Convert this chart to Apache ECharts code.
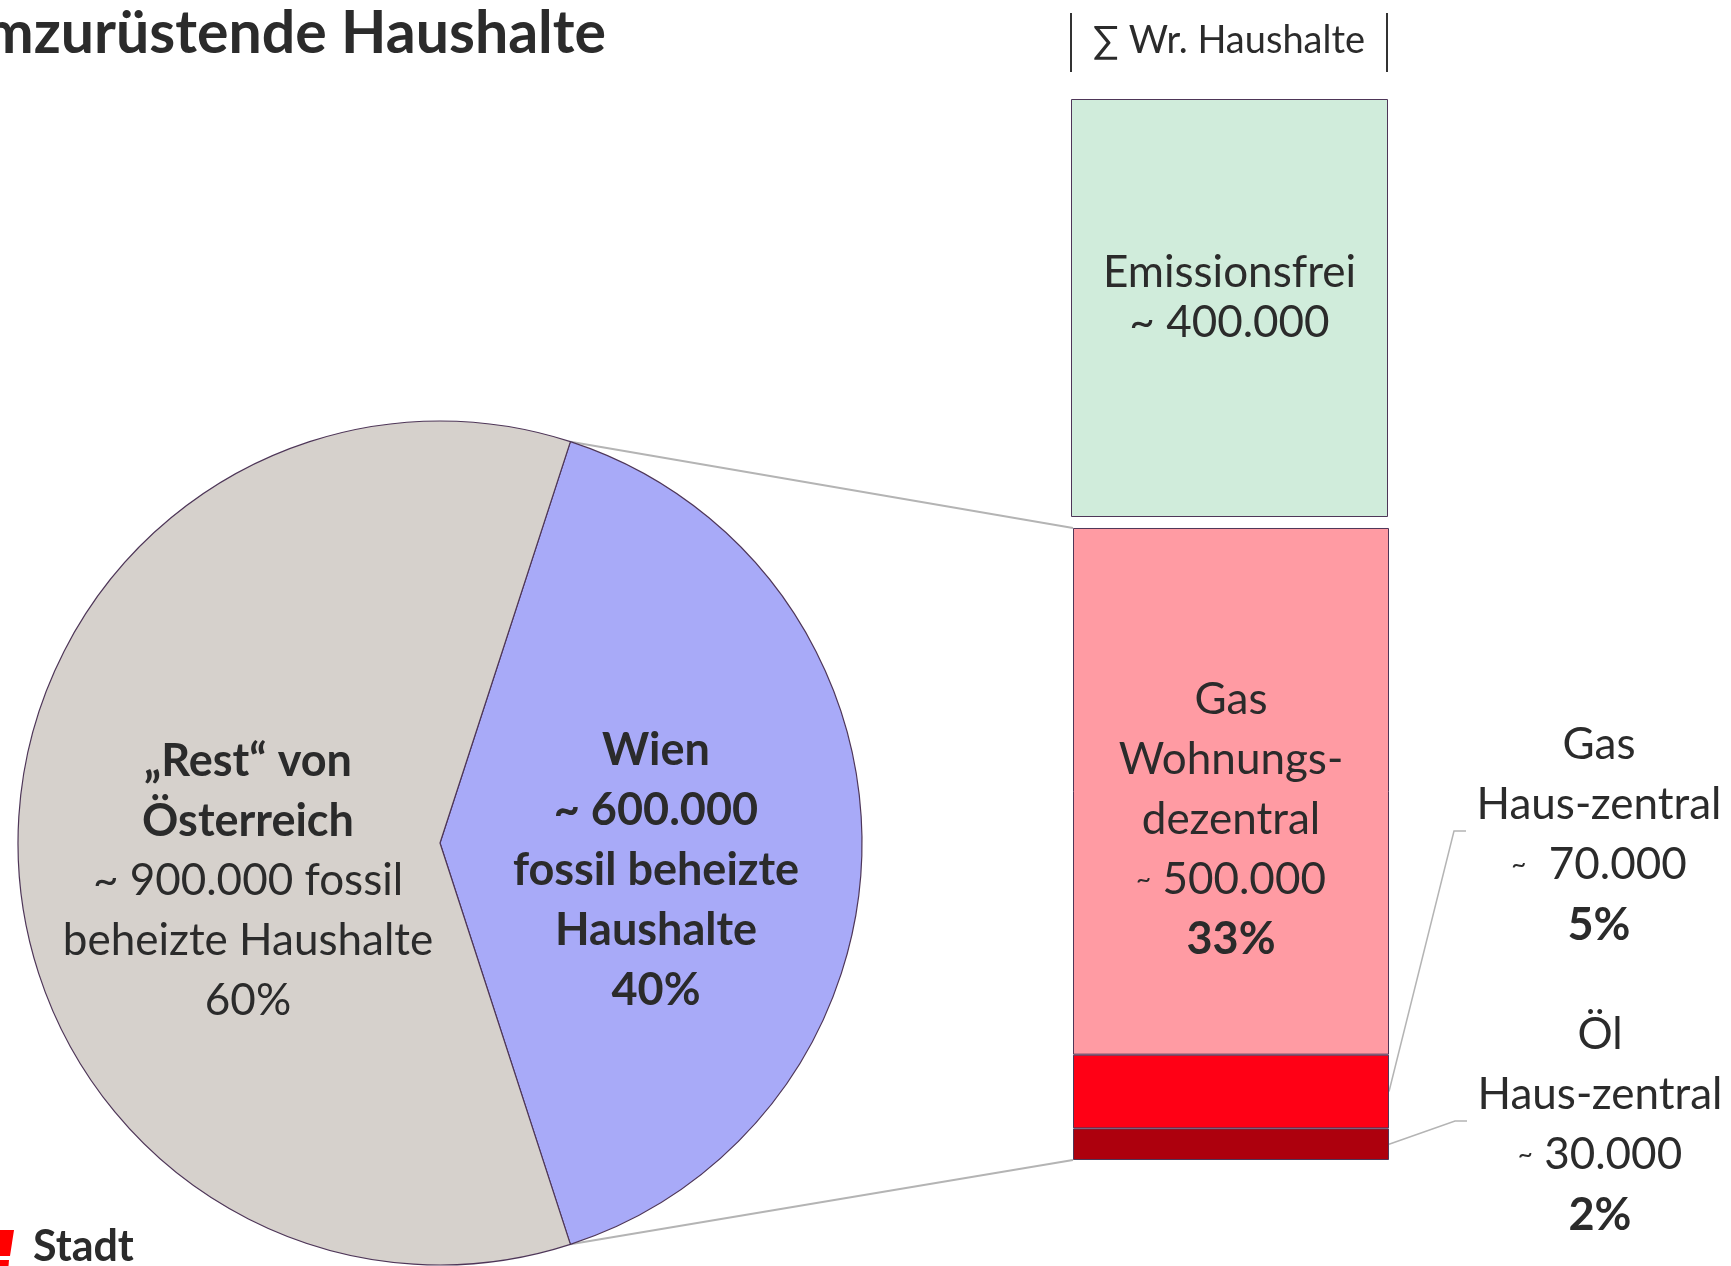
<!DOCTYPE html>
<html><head><meta charset="utf-8">
<script src="https://cdn.jsdelivr.net/npm/echarts@6/dist/echarts.min.js"></script>
<style>html,body{margin:0;padding:0;background:#fff}#c{width:1731px;height:1266px}</style>
</head><body><div id="c"></div>
<script>
// ---------- data ----------
const titleText = 'Umzurüstende Haushalte';
const headerText = '\u2211 Wr. Haushalte';
const logoText = 'Stadt';

const pieNames = ['Wien', 'Rest von Österreich'];
const pieValues = [600000, 900000];
const pieShares = ['40%', '60%'];

const barCategory = ['Wien'];
const stackNames = ['Öl', 'Gas', 'Gas'];
const stackSubNames = ['Haus-zentral', 'Haus-zentral', 'Wohnungs-\ndezentral'];
const stackValues = [30000, 70000, 500000];
const stackShares = ['2%', '5%', '33%'];

const cleanName = 'Emissionsfrei';
const cleanValue = 400000;

// ---------- style ----------
const FONT = 'Lato';
const TXT = '#2b2b2b';
const BORDER = '#4e3658';
const pieColors = ['#a8aaf8', '#d6d1cc'];
const stackColors = ['#ad000d', '#ff0015', '#ff9ba3'];
const cleanColor = '#d0ecdb';
const PIE_C = [440, 843], PIE_R = 422, START = 72;
// label content shift [dx, dy] realised through asymmetric padding
const pieLabelShift = [[2, 27], [22, 38]];
const smallLabelPos = [[1600, 1125], [1599, 835]];
const tildeGap = [' ', '  ', ' '];

const fmt = v => String(v).replace(/\B(?=(\d{3})+(?!\d))/g, '.');
const FS = 44;
const rich = {
  r: {fontFamily: FONT, fontSize: FS, color: TXT, lineHeight: 60},
  b: {fontFamily: FONT, fontSize: 45, fontWeight: 'bold', color: TXT, lineHeight: 60},
  t: {fontFamily: FONT, fontSize: 26, color: TXT, lineHeight: 60},
  e: {fontFamily: FONT, fontSize: FS, color: TXT, lineHeight: 50}
};

const chart = echarts.init(document.getElementById('c'), null, {renderer: 'canvas'});

const pieLabel = (p) => {
  const i = p.dataIndex;
  if (i === 0) {
    return ['{b|' + pieNames[0] + '}', '{b|~ ' + fmt(pieValues[0]) + '}', '{b|fossil beheizte}', '{b|Haushalte}', '{b|' + pieShares[0] + '}'].join('\n');
  }
  return ['{b|\u201ERest\u201C von}', '{b|Österreich}', '{r|~ ' + fmt(pieValues[1]) + ' fossil}', '{r|beheizte Haushalte}', '{r|' + pieShares[1] + '}'].join('\n');
};

const stackLabel = (i) => {
  const lines = [];
  lines.push('{r|' + stackNames[i] + '}');
  stackSubNames[i].split('\n').forEach(s => lines.push('{r|' + s + '}'));
  lines.push('{t|~}{r|' + tildeGap[i] + fmt(stackValues[i]) + '}');
  lines.push('{b|' + stackShares[i] + '}');
  return lines.join('\n');
};

const barSeries = stackValues.map((v, i) => {
  const s = {
    type: 'bar', name: stackNames[i] + ' ' + stackSubNames[i],
    xAxisIndex: 1, yAxisIndex: 1, stack: 'wien', barWidth: '100%',
    data: [v],
    itemStyle: {color: stackColors[i], borderColor: BORDER, borderWidth: 1},
    label: {show: true, position: 'inside', formatter: stackLabel(i), rich: rich, align: 'center'},
    silent: true
  };
  if (i === 2) {
    s.label.offset = [0, 28];
  } else {
    s.labelLayout = {x: smallLabelPos[i][0], y: smallLabelPos[i][1], align: 'center', verticalAlign: 'middle'};
  }
  return s;
});

const option = {
  animation: false,
  backgroundColor: '#fff',
  grid: [
    {left: 1071, top: 99, width: 317, height: 418},
    {left: 1073, top: 528, width: 316, height: 632}
  ],
  xAxis: [
    {type: 'category', data: barCategory, gridIndex: 0, show: false},
    {type: 'category', data: barCategory, gridIndex: 1, show: false}
  ],
  yAxis: [
    {type: 'value', gridIndex: 0, min: 0, max: cleanValue, show: false},
    {type: 'value', gridIndex: 1, min: 0, max: stackValues.reduce((a, b) => a + b, 0), show: false}
  ],
  series: [
    {
      type: 'bar', name: cleanName, xAxisIndex: 0, yAxisIndex: 0, barWidth: '100%',
      data: [cleanValue],
      itemStyle: {color: cleanColor, borderColor: BORDER, borderWidth: 1},
      label: {show: true, position: 'inside', offset: [0, -10], rich: rich,
        formatter: '{e|' + cleanName + '}\n{e|~ ' + fmt(cleanValue) + '}'},
      silent: true
    },
    ...barSeries,
    {
      type: 'pie', center: PIE_C, radius: PIE_R, startAngle: START, clockwise: true,
      data: pieValues.map((v, i) => ({
        value: v, name: pieNames[i], itemStyle: {color: pieColors[i]},
        label: {padding: [2 * pieLabelShift[i][1], 0, 0, 2 * pieLabelShift[i][0]]}
      })),
      itemStyle: {borderColor: BORDER, borderWidth: 1.2},
      label: {show: true, position: 'inside', formatter: pieLabel, rich: rich, align: 'center'},
      labelLine: {show: false},
      emphasis: {disabled: true},
      silent: true
    }
  ]
};
chart.setOption(option);

// ---------- annotations derived from the rendered layout ----------
const model = chart.getModel();
const rectOf = (si) => model.getSeriesByIndex(si).getData().getItemLayout(0);
const norm = r => ({x: r.x, y: Math.min(r.y, r.y + r.height), w: r.width, h: Math.abs(r.height)});
const nr = stackValues.map((v, i) => norm(rectOf(i + 1)));
const topRect = nr[2], botRect = nr[0];

const total = pieValues.reduce((a, b) => a + b, 0);
const a1 = START * Math.PI / 180;
const a2 = (START - 360 * pieValues[0] / total) * Math.PI / 180;
const pt = a => [PIE_C[0] + PIE_R * Math.cos(a), PIE_C[1] - PIE_R * Math.sin(a)];

const graphics = [
  {type: 'polyline', shape: {points: [pt(a1), [topRect.x, topRect.y]]}, style: {stroke: '#b4b4b4', lineWidth: 2, fill: null}, z: 0},
  {type: 'polyline', shape: {points: [pt(a2), [botRect.x, botRect.y + botRect.h]]}, style: {stroke: '#b4b4b4', lineWidth: 2, fill: null}, z: 0}
];
[0, 1].forEach(i => {
  const r = nr[i];
  const lp = smallLabelPos[i];
  graphics.push({type: 'polyline', shape: {points: [[r.x + r.w, r.y + r.h / 2], [lp[0] - 145, lp[1] - 4], [lp[0] - 133, lp[1] - 4]]},
    style: {stroke: '#b4b4b4', lineWidth: 1.5, fill: null}, z: 0});
});
// title, header, logo
graphics.push({type: 'text', x: 606, y: 34, style: {text: titleText, fontFamily: FONT, fontWeight: 'bold', fontSize: 59, fill: TXT, align: 'right', verticalAlign: 'middle'}});
graphics.push({type: 'text', x: 1229, y: 41, style: {text: headerText, fontFamily: FONT, fontSize: 38, fill: TXT, align: 'center', verticalAlign: 'middle'}});
graphics.push({type: 'line', shape: {x1: 1071, y1: 13, x2: 1071, y2: 72}, style: {stroke: '#333', lineWidth: 2}});
graphics.push({type: 'line', shape: {x1: 1387, y1: 13, x2: 1387, y2: 72}, style: {stroke: '#333', lineWidth: 2}});
graphics.push({type: 'polygon', shape: {points: [[-10, 1230], [14, 1230], [10, 1256], [-10, 1256]]}, style: {fill: '#ff0000'}});
graphics.push({type: 'polygon', shape: {points: [[-10, 1260], [9, 1260], [8, 1272], [-10, 1272]]}, style: {fill: '#ff0000'}});
graphics.push({type: 'text', x: 33, y: 1247, style: {text: logoText, fontFamily: FONT, fontWeight: 'bold', fontSize: 43, fill: TXT, align: 'left', verticalAlign: 'middle'}});

chart.setOption({graphic: graphics});
</script>
</body></html>
